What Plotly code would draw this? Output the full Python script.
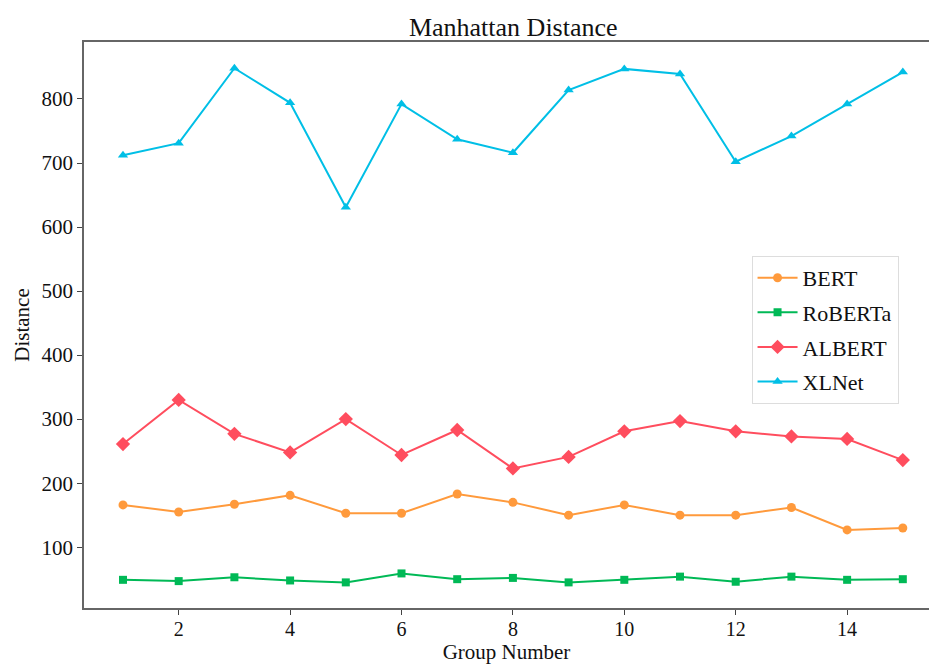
import plotly.graph_objects as go

# Group indices along the x axis
groups = list(range(1, 16))

# Manhattan distance per model for each group
bert = [166, 155, 167, 181, 153, 153, 183, 170, 150, 166, 150, 150, 162, 127, 130]
roberta = [49, 47, 53, 48, 45, 59, 50, 52, 45, 49, 54, 46, 54, 49, 50]
albert = [261, 330, 277, 248, 300, 244, 283, 223, 241, 281, 297, 281, 273, 269, 236]
xlnet = [712, 731, 848, 794, 631, 792, 737, 716, 814, 847, 839, 702, 742, 792, 842]

x_ticks = [2, 4, 6, 8, 10, 12, 14]
y_ticks = [100, 200, 300, 400, 500, 600, 700, 800]

series = [
    ("BERT", bert, "#FF9A3C", "circle", 9),
    ("RoBERTa", roberta, "#00B956", "square", 8),
    ("ALBERT", albert, "#FF4D5E", "diamond", 11),
    ("XLNet", xlnet, "#00BFE6", "triangle-up", 9),
]

font_family = "Liberation Serif, Times New Roman, serif"

fig = go.Figure()
for name, values, color, symbol, size in series:
    fig.add_trace(go.Scatter(
        x=groups, y=values, name=name, mode="lines+markers",
        legendgroup=name,
        line=dict(color=color, width=2),
        marker=dict(color=color, symbol=symbol, size=size),
    ))

fig.update_layout(
    width=929, height=664,
    margin=dict(l=84, r=0, t=42, b=56),
    paper_bgcolor="white", plot_bgcolor="white",
    font=dict(family=font_family, size=20, color="#111"),
    title=dict(text="Manhattan Distance", x=0.508, xref="paper",
               y=1 - 27 / 664, yanchor="middle", xanchor="center",
               font=dict(size=26, family=font_family, color="#111")),
    showlegend=True,
    legend=dict(
        x=0.79, y=0.622, xanchor="left", yanchor="top",
        bgcolor="white", bordercolor="#DDDDDD", borderwidth=1,
        font=dict(size=22, family=font_family, color="#111"),
        traceorder="grouped", tracegroupgap=3,
        itemwidth=40,
    ),
    xaxis=dict(
        range=[0.3, 15.47], tickvals=x_ticks, ticks="outside", ticklen=5,
        tickcolor="#444", showline=True, linecolor="#666", linewidth=1.5,
        mirror=True, showgrid=False, zeroline=False,
        tickfont=dict(size=20), ticklabelstandoff=-3,
        title=dict(text="Group Number", font=dict(size=21), standoff=5),
    ),
    yaxis=dict(
        range=[5, 889], tickvals=y_ticks, ticks="outside", ticklen=5,
        tickcolor="#444", showline=True, linecolor="#666", linewidth=1.5,
        mirror=False, showgrid=False, zeroline=False,
        tickfont=dict(size=21),
        title=dict(text="Distance", font=dict(size=21), standoff=6),
    ),
)

fig.write_html("out.html")
